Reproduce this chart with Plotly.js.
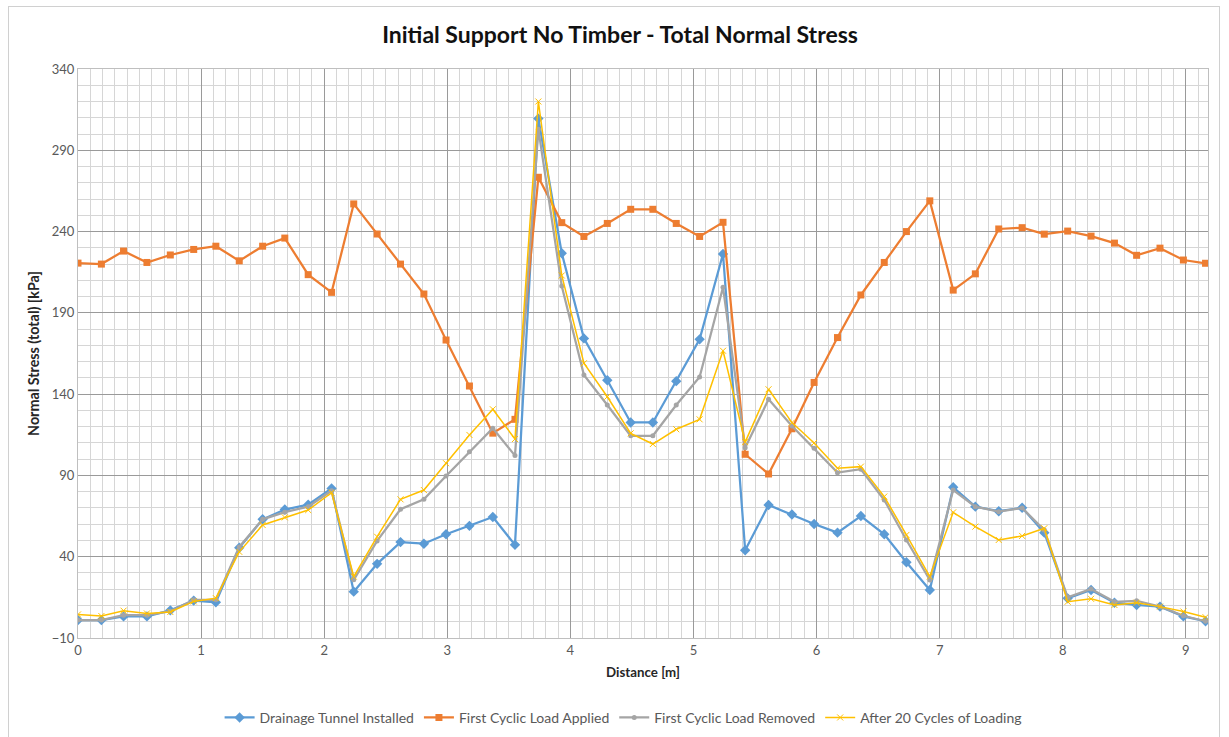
<!DOCTYPE html>
<html>
<head>
<meta charset="utf-8">
<script src="https://cdn.plot.ly/plotly-3.0.1.min.js"></script>
<style>
  html, body { margin: 0; padding: 0; background: #fff; }
  #wrap { position: relative; width: 1229px; height: 737px; }
  #chart { position: absolute; left: 0; top: 0; width: 1229px; height: 737px; }
  #frame { position: absolute; left: 8px; top: 6px; width: 1212px; height: 740px; border: 1px solid #d0d0d0; pointer-events: none; box-sizing: border-box; }
</style>
</head>
<body>
<div id="wrap">
  <div id="chart"></div>
  <div id="frame"></div>
</div>
<script>
// Distance along the support [m]
const distance = [0, 0.19, 0.37, 0.56, 0.75, 0.94, 1.12, 1.31, 1.50, 1.68,
  1.87, 2.06, 2.24, 2.43, 2.62, 2.81, 2.99, 3.18, 3.37, 3.55,
  3.74, 3.93, 4.11, 4.30, 4.49, 4.67, 4.86, 5.05, 5.24, 5.42,
  5.61, 5.80, 5.98, 6.17, 6.36, 6.55, 6.73, 6.92, 7.11, 7.29,
  7.48, 7.67, 7.85, 8.04, 8.23, 8.42, 8.60, 8.79, 8.98, 9.16];

const drainageTunnelInstalled = [1, 1, 3.3, 3.3, 7, 13, 12, 45.5, 63, 69,
  72, 82, 18.5, 35.6, 49, 48, 53.8, 59, 64.4, 47.3,
  309.5, 226.7, 174.3, 148.5, 122.6, 122.6, 148, 173.7, 226.2, 44,
  71.8, 66, 60.1, 54.8, 65, 53.8, 36.6, 19.5, 82.7, 70.8,
  68, 70.1, 54.8, 14.4, 19.5, 11.7, 10.3, 9.3, 3.3, 0.3];

const firstCyclicLoadApplied = [220.6, 220, 228, 221, 225.6, 229, 231, 222, 231, 236,
  213.5, 202.6, 257, 238.5, 220, 201.6, 173.3, 145, 116, 124.5,
  273.4, 245.5, 237, 245, 253.7, 253.7, 245, 237, 245.7, 103,
  90.9, 118.7, 147.2, 174.8, 201, 221, 240, 258.9, 204, 214,
  241.6, 242.4, 238.4, 240.3, 237.2, 232.9, 225.4, 229.8, 222.5, 220.5];

const firstCyclicLoadRemoved = [1, 1, 4, 4, 6.5, 13.5, 13.5, 46, 63, 67.4,
  70.8, 80.6, 25.8, 49.7, 69.2, 75.3, 89.7, 104.6, 119, 102.2,
  303, 206.5, 151.8, 133.3, 114.4, 114.4, 133.3, 150.5, 205.7, 107,
  136.8, 120.4, 106.7, 91.7, 93.8, 74.9, 50.3, 25.7, 81, 70.8,
  67.7, 70, 56.4, 15, 20.2, 12.3, 12.9, 9.4, 3.7, 0.3];

const after20Cycles = [4.5, 3.5, 6.8, 5.1, 6, 12.5, 14.5, 43, 59.5, 64.2,
  68.7, 79.4, 27.8, 52.3, 75.3, 81, 97.5, 114.9, 130.7, 112.4,
  320, 213, 159, 138.4, 115.9, 109.3, 118.4, 124.5, 166.7, 110.5,
  143, 122.5, 110, 94.4, 95.4, 77, 53.4, 27.8, 67.3, 58.5,
  50.3, 52.8, 57.5, 12.3, 14.1, 10.3, 11.7, 9.3, 6.3, 2.8];

const seriesNames = ["Drainage Tunnel Installed", "First Cyclic Load Applied",
  "First Cyclic Load Removed", "After 20 Cycles of Loading"];

const FONT = "Lato, 'Open Sans', 'Liberation Sans', sans-serif";

const traces = [
  { x: distance, y: drainageTunnelInstalled, name: seriesNames[0], type: "scatter", mode: "lines+markers",
    line: { color: "#5B9BD5", width: 2.25 }, marker: { symbol: "diamond", size: 8, color: "#5B9BD5" } },
  { x: distance, y: firstCyclicLoadApplied, name: seriesNames[1], type: "scatter", mode: "lines+markers",
    line: { color: "#ED7D31", width: 2.25 }, marker: { symbol: "square", size: 7, color: "#ED7D31" } },
  { x: distance, y: firstCyclicLoadRemoved, name: seriesNames[2], type: "scatter", mode: "lines+markers",
    line: { color: "#A5A5A5", width: 2.25 }, marker: { symbol: "circle", size: 5, color: "#A5A5A5" } },
  { x: distance, y: after20Cycles, name: seriesNames[3], type: "scatter", mode: "lines+markers",
    line: { color: "#FFC000", width: 1.5 }, marker: { symbol: "x-thin-open", size: 6, color: "#FFC000", line: { color: "#FFC000", width: 1 } } }
];

const layout = {
  width: 1229, height: 737,
  paper_bgcolor: "rgba(0,0,0,0)", plot_bgcolor: "#ffffff",
  margin: { l: 78, r: 21, t: 69, b: 99 },
  font: { family: FONT, color: "#595959", size: 13 },
  title: { text: "<b>Initial Support No Timber - Total Normal Stress</b>", x: 0.5045, xref: "container", xanchor: "center",
    y: 0.952, yref: "container", yanchor: "middle",
    font: { family: FONT, size: 23, color: "#111111" } },
  xaxis: {
    range: [0, 9.18], tick0: 0, dtick: 1, tickformat: "d",
    showgrid: true, gridcolor: "#9a9a9a", gridwidth: 1,
    minor: { dtick: 0.1, tick0: 0, showgrid: true, gridcolor: "#d6d6d6", gridwidth: 1 },
    zeroline: false, showline: true, linecolor: "#bfbfbf", mirror: true,
    ticks: "", tickfont: { size: 13, color: "#595959" },
    title: { text: "<b>Distance [m]</b>", font: { size: 13.3, color: "#262626" }, standoff: 11 },
    automargin: false
  },
  yaxis: {
    range: [-10, 340], tick0: -10, dtick: 50,
    showgrid: true, gridcolor: "#9a9a9a", gridwidth: 1,
    minor: { dtick: 10, tick0: -10, showgrid: true, gridcolor: "#d6d6d6", gridwidth: 1 },
    zeroline: false, showline: true, linecolor: "#bfbfbf", mirror: true,
    ticks: "", tickfont: { size: 13, color: "#595959" },
    title: { text: "<b>Normal Stress (total) [kPa]</b>", font: { size: 14.3, color: "#262626" }, standoff: 8 },
    automargin: false
  },
  showlegend: true,
  legend: { orientation: "h", x: 0.507, xref: "container", xanchor: "center", y: 0.026, yref: "container", yanchor: "middle",
    font: { size: 14, color: "#595959" }, itemwidth: 30, tracegroupgap: 0 }
};

Plotly.newPlot("chart", traces, layout, { displayModeBar: false, staticPlot: true });
</script>
</body>
</html>
